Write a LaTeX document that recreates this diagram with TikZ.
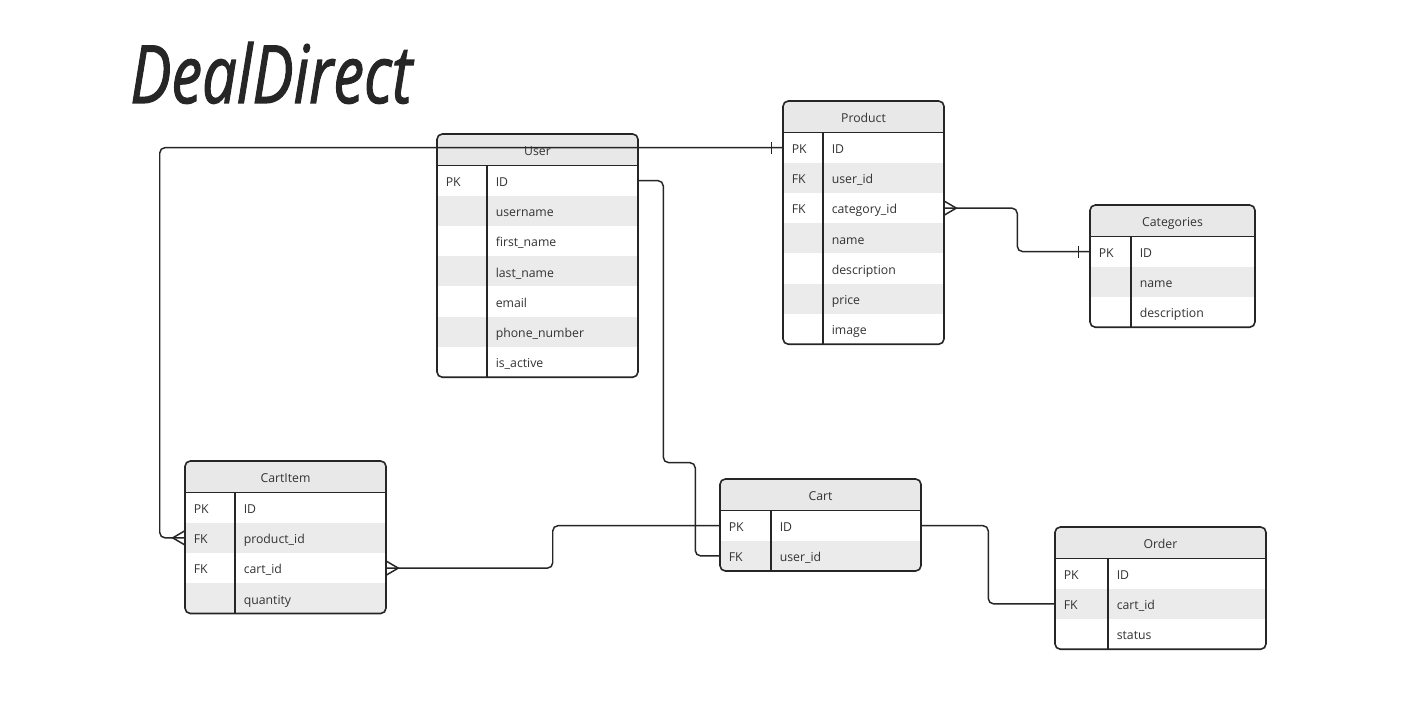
\documentclass[tikz,border=0pt]{standalone}
\usepackage{fontspec}
\usepackage{graphicx}
\setmainfont{Open Sans}
\font\titlefont="Open Sans/I:embolden=1.6" at 30pt
\usepackage{tikz}
\usepackage{xcolor}

\definecolor{inkline}{HTML}{262626}
\definecolor{inktext}{HTML}{333333}
\definecolor{headfill}{HTML}{E8E8E8}
\definecolor{rowfill}{HTML}{EBEBEB}

\tikzset{
  tableline/.style={draw=inkline, line width=1.2pt},
  connector/.style={draw=inkline, line width=1.1pt},
  rowbox/.style={inner sep=0pt, minimum height=22.69pt},
  keytext/.style={anchor=west, inner sep=0pt, text height=8.5pt, text depth=0pt,
    font=\fontsize{9.2}{11}\selectfont, text=inktext},
  headtext/.style={inner sep=0pt, text height=8.5pt, text depth=0pt,
    font=\fontsize{9.2}{11}\selectfont, text=inktext},
  crowW/.pic={\draw[connector] (0,-7) -- (-12,0) -- (0,7);},
  crowE/.pic={\draw[connector] (0,-7) -- (12,0) -- (0,7);},
  barW/.pic={\draw[connector] (-11,-6) -- (-11,6);}
}

% name, title, left, top, width, key column, rows, key/field list
\newcommand{\ertable}[8]{%
  \pgfmathsetmacro{\erbot}{#4+31.5+#7*30.25}
  \begin{scope}
    \clip[rounded corners=4pt] (#3,#4) rectangle (#3+#5,\erbot);
    \fill[headfill] (#3,#4) rectangle (#3+#5,#4+31.5);
    \foreach \k/\f [count=\i] in {#8} {
      \pgfmathsetmacro{\rowy}{#4+31.5+(\i-0.5)*30.25}
      \ifodd\i\def\rowcol{white}\else\def\rowcol{rowfill}\fi
      \node[rowbox, fill=\rowcol, minimum width=#5*0.75pt] (#1-\i) at (#3+#5/2,\rowy) {};
      \node[keytext] (#1-\i-k) at (#3+8.5,\rowy) {\k};
      \node[keytext] (#1-\i-f) at (#3+#6+8.5,\rowy) {\f};
    }
  \end{scope}
  \node[headtext] (#1) at (#3+#5/2,#4+15.75) {#2};
  \draw[tableline, rounded corners=4pt] (#3,#4) rectangle (#3+#5,\erbot);
  \draw[tableline] (#3,#4+31.5) -- (#3+#5,#4+31.5);
  \draw[tableline] (#3+#6,#4+31.5) -- (#3+#6,\erbot);
}

\begin{document}
\begin{tikzpicture}[x=0.75pt, y=-0.75pt]
  \fill[white] (0,0) rectangle (1416,705);
  \useasboundingbox (0,0) rectangle (1416,705);
  % Title
  \node[inner sep=0pt, anchor=base west, text=inkline] (title) at (130,103)
    {\resizebox{211.5pt}{45.75pt}{\titlefont DealDirect}};
  % Tables
  \ertable{user}{User}{437}{134}{201}{50}{7}{PK/ID, /username, /first\_name, /last\_name, /email, /phone\_number, /is\_active}
  \ertable{product}{Product}{783}{101}{161}{40}{7}{PK/ID, FK/user\_id, FK/category\_id, /name, /description, /price, /image}
  \ertable{categories}{Categories}{1090}{205}{165}{41}{3}{PK/ID, /name, /description}
  \ertable{cartitem}{CartItem}{185}{461}{201}{50}{4}{PK/ID, FK/product\_id, FK/cart\_id, /quantity}
  \ertable{cart}{Cart}{720}{479}{201}{51}{2}{PK/ID, FK/user\_id}
  \ertable{order}{Order}{1055}{527}{211}{53}{3}{PK/ID, FK/cart\_id, /status}
  % Relations
  \draw[connector, rounded corners=4pt] (cartitem-2.west) -- ++(-25,0) |- (product-1.west);
  \draw[connector, rounded corners=4pt] (user-1.east) -- ++(25,0) -- ++(0,282) -- ++(32,0) |- (cart-2.west);
  \draw[connector, rounded corners=4pt] (cart-1.west) -- ++(-167,0) |- (cartitem-3.east);
  \draw[connector, rounded corners=4pt] (cart-1.east) -- ++(67,0) |- (order-2.west);
  \draw[connector, rounded corners=4pt] (product-3.east) -- ++(73,0) |- (categories-1.west);
  % Ends
  \pic at (cartitem-2.west) {crowW};
  \pic at (product-1.west) {barW};
  \pic at (cartitem-3.east) {crowE};
  \pic at (product-3.east) {crowE};
  \pic at (categories-1.west) {barW};
\end{tikzpicture}
\end{document}
